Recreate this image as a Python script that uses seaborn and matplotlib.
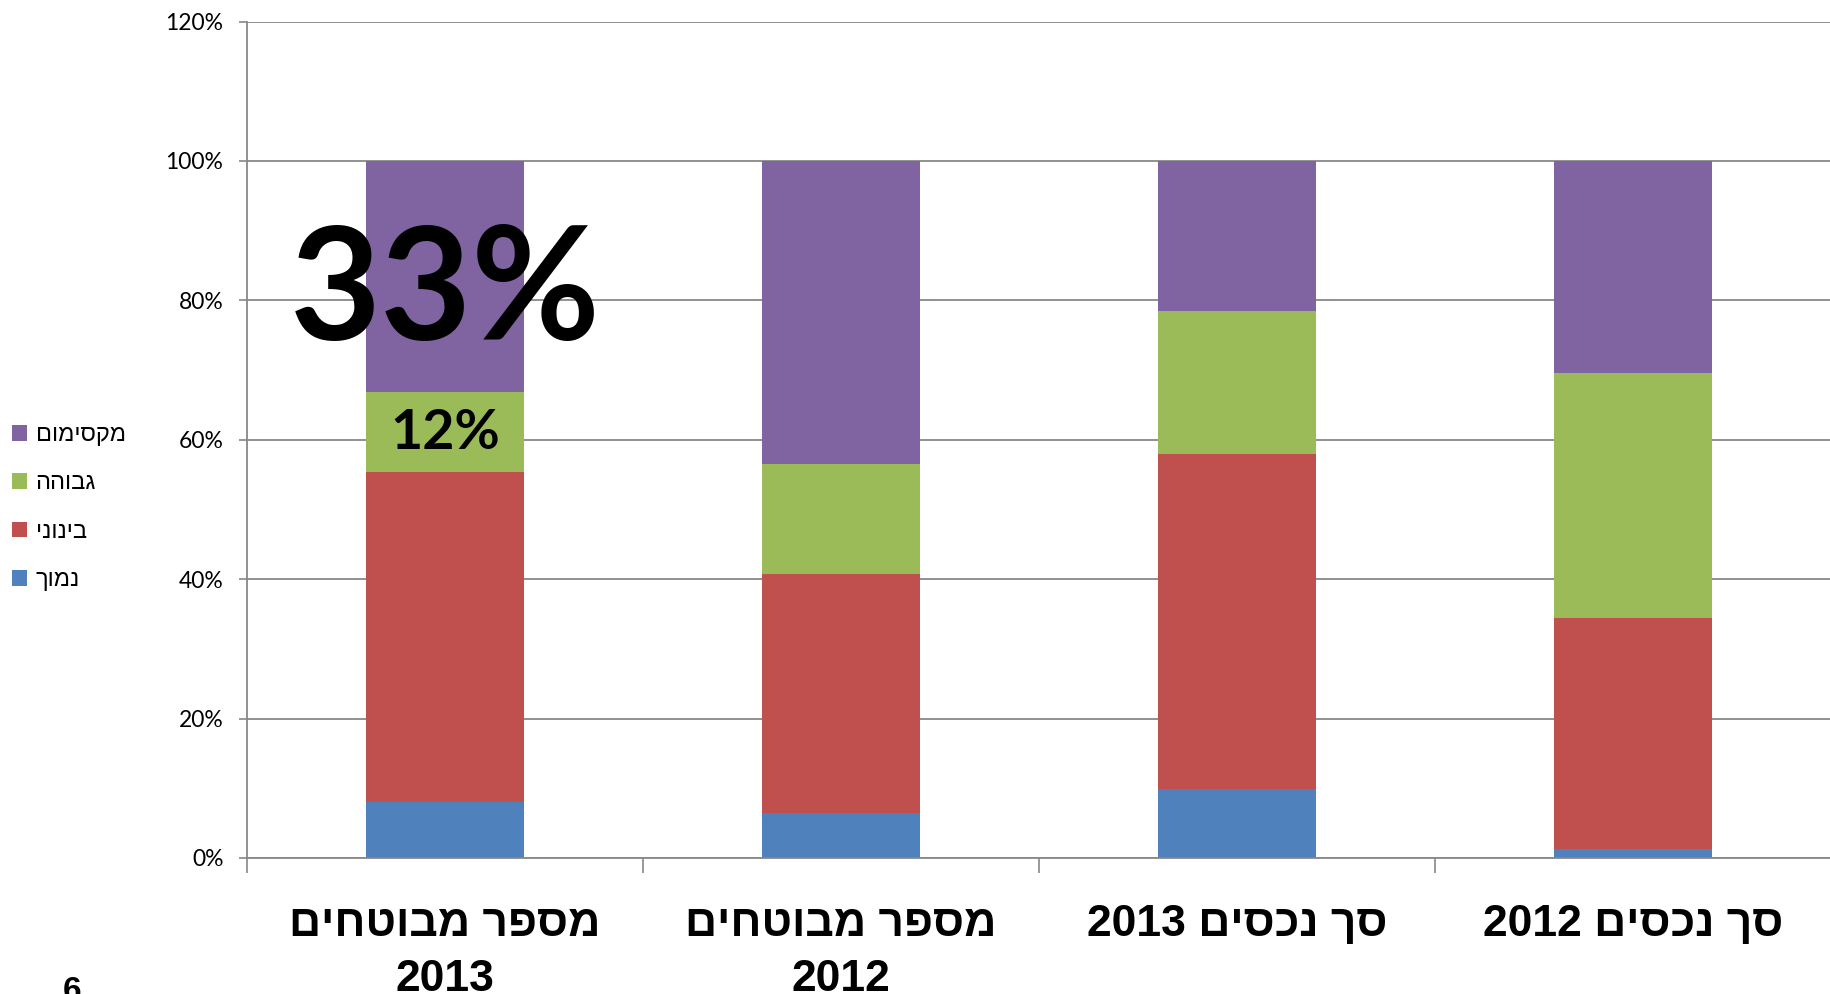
import numpy as np
import pandas as pd
import seaborn as sns
import matplotlib.pyplot as plt
from matplotlib.patches import Patch

# categories in logical (Hebrew) order, left to right on the chart
categories = ['מספר מבוטחים\n2013', 'מספר מבוטחים\n2012', 'סך נכסים 2013', 'סך נכסים 2012']
series_names = ['נמוך', 'בינוני', 'גבוהה', 'מקסימום']
low = [8.1, 6.4, 9.9, 1.3]
mid = [47.3, 34.3, 48.1, 33.1]
high = [11.5, 15.8, 20.4, 35.2]
maxi = [33.1, 43.5, 21.6, 30.4]
colors = ['#4F81BD', '#C0504D', '#9BBB59', '#8064A2']
yticks = [0, 20, 40, 60, 80, 100, 120]


def vis(s):
    # matplotlib has no bidi, so put RTL words into visual order
    lines = []
    for line in s.split('\n'):
        words = line.split(' ')
        lines.append(' '.join(w if w.isdigit() else w[::-1] for w in reversed(words)))
    return '\n'.join(lines)


heb = ['Liberation Sans', 'DejaVu Sans']
plt.rcParams['font.family'] = heb

df = pd.DataFrame({'cat': categories, 'low': low, 'mid': mid, 'high': high, 'max': maxi})
cols = ['low', 'mid', 'high', 'max']
cum = df[cols].cumsum(axis=1)

fig = plt.figure(figsize=(18.31, 9.94), dpi=100)
ax = fig.add_axes([247 / 1831, 1 - 858 / 994, 1 - 247 / 1831, (858 - 21.5) / 994])

# draw tallest cumulative first so lower segments sit on top
for c, col in reversed(list(zip(colors, cols))):
    sns.barplot(x=df['cat'], y=cum[col], color=c, width=0.4, saturation=1,
                ax=ax, linewidth=0, order=categories)

ax.set_xlim(-0.5, 3.5)
ax.set_ylim(0, 120)
ax.set_yticks(yticks)
ax.set_yticklabels([f'{v}%' for v in yticks], fontsize=16.5, family=['Lato', 'DejaVu Sans'])
ax.yaxis.grid(True, color='#888888', linewidth=1.3)
ax.set_axisbelow(True)
ax.tick_params(axis='y', length=6, width=1.2, color='#888888', pad=11)

ax.set_xticks(range(4))
ax.set_xticklabels([vis(c) for c in categories], fontsize=32, fontweight='bold',
                   linespacing=1.45, va='top')
ax.set_xticks([-0.5, 0.5, 1.5, 2.5], minor=True)
ax.tick_params(axis='x', which='major', length=0, pad=33)
ax.tick_params(axis='x', which='minor', length=11, width=1.2, color='#888888')
ax.set_xlabel('')
ax.set_ylabel('')

for s in ['top', 'right']:
    ax.spines[s].set_visible(False)
for s in ['left', 'bottom']:
    ax.spines[s].set_color('#888888')
    ax.spines[s].set_linewidth(1.3)

# annotations on the first bar
ax.text(0, 80.8, '33%', ha='center', va='center', fontsize=113, fontweight='bold',
        family=['Lato', 'DejaVu Sans'])
ax.text(0, 61.0, '12%', ha='center', va='center', fontsize=40, fontweight='bold',
        family=['Lato', 'DejaVu Sans'])

handles = [Patch(facecolor=c, edgecolor='none') for c in colors][::-1]
labels = [vis(n) for n in series_names][::-1]
fig.legend(handles, labels, loc='upper left', bbox_to_anchor=(12 / 1831, 1 - 424 / 994),
           frameon=False, fontsize=17, handlelength=0.65, handleheight=0.65,
           handletextpad=0.35, labelspacing=1.12, borderpad=0, borderaxespad=0)

fig.text(63 / 1831, 1 - 976 / 994, '6', fontsize=24, fontweight='bold', va='top', ha='left')

fig.savefig('out.png', dpi=100)
